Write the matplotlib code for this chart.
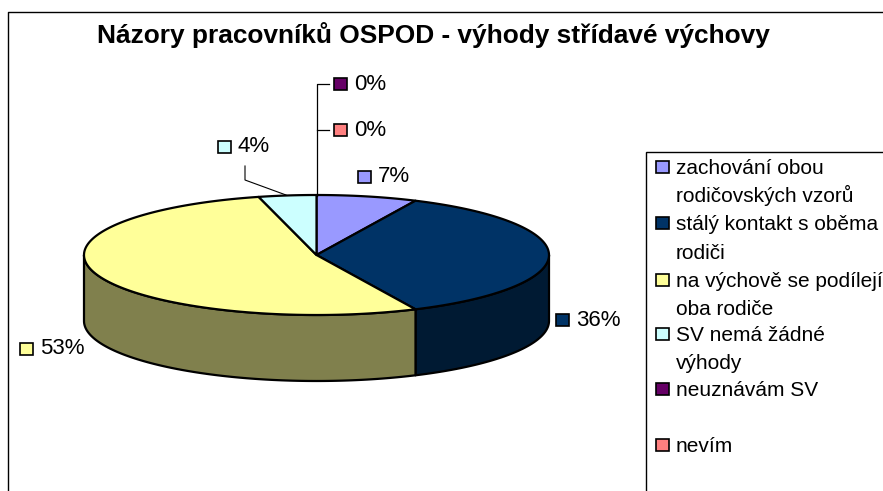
import numpy as np
import matplotlib
matplotlib.use("Agg")
import matplotlib.pyplot as plt
from matplotlib.patches import Polygon, Rectangle

title = "Názory pracovníků OSPOD - výhody střídavé výchovy"
categories = ["zachování obou\nrodičovských vzorů", "stálý kontakt s oběma\nrodiči",
              "na výchově se podílejí\noba rodiče", "SV nemá žádné\nvýhody", "neuznávám SV", "nevím"]
values = [7, 36, 53, 4, 0, 0]
colors = ["#9999FF", "#003366", "#FFFF99", "#CCFFFF", "#660066", "#FF8080"]
side_colors = ["#4D4D80", "#001A33", "#80804D", "#668080", "#330033", "#804040"]
label_marker_xy = [(364.5, 176.5), (562.5, 320), (26.5, 348.5), (224.5, 146.5), (340.5, 84), (340.5, 130)]
legend_rows = [(167, 195), (223, 252), (280, 308), (334, 362), (389,), (445,)]

plt.rcParams['font.family'] = ['Liberation Sans', 'DejaVu Sans']
fig = plt.figure(figsize=(8.83, 4.91), dpi=100)
ax = fig.add_axes([0, 0, 1, 1])
ax.set_xlim(0, 883)
ax.set_ylim(491, 0)
ax.axis('off')

# chart frame
ax.plot([8, 8, 883], [491, 12, 12], color='black', lw=1.0, solid_capstyle='butt')

# pie geometry
cx, cy, rx, ry, depth = 316.5, 255, 232.5, 60, 66
fractions = np.array(values, float) / sum(values)
edges = np.concatenate([[0], np.cumsum(fractions)]) * 2 * np.pi

def rim(a, b, dy=0.0):
    t = np.linspace(a, b, max(2, int((b - a) * 60)))
    return np.column_stack([cx + rx * np.sin(t), cy - ry * np.cos(t) + dy])

# sides
for i in range(len(values)):
    a, b = max(edges[i], np.pi / 2), min(edges[i + 1], 3 * np.pi / 2)
    if b <= a:
        continue
    top = rim(a, b)
    bottom = rim(a, b, depth)[::-1]
    ax.add_patch(Polygon(np.vstack([top, bottom]), closed=True, fc=side_colors[i], ec='black', lw=1.6, joinstyle='round', zorder=2))

# top faces
for i in range(len(values)):
    if values[i] == 0:
        continue
    pts = np.vstack([[cx, cy], rim(edges[i], edges[i + 1])])
    ax.add_patch(Polygon(pts, closed=True, fc=colors[i], ec='black', lw=1.6, joinstyle='round', zorder=3))

# leader lines
ax.plot([316.5, 316.5, 329], [196, 84, 84], color='black', lw=0.9, zorder=4)
ax.plot([316.5, 329], [130, 130], color='black', lw=0.9, zorder=4)
ax.plot([245, 245, 286], [166, 180, 195], color='black', lw=0.8, zorder=4)

# data labels
def marker(x, y, c):
    ax.add_patch(Rectangle((x - 6.5, y - 6), 13, 12, fc=c, ec='black', lw=1.2, zorder=5))

for (mx, my), v, c in zip(label_marker_xy, values, colors):
    marker(mx, my, c)
    ax.text(mx + 13.5, my + 6, f"{v}%", fontsize=16, va='baseline', ha='left', color='black', zorder=5)

# title
ax.text(433, 43, title, fontsize=18.9, fontweight='bold', ha='center', va='baseline', color='black')

# legend
ax.add_patch(Rectangle((646, 152), 300, 400, fc='white', ec='black', lw=1.0, zorder=1))
for cat, rows, c in zip(categories, legend_rows, colors):
    marker(662, rows[0], c)
    for line, y in zip(cat.split("\n"), rows):
        ax.text(676, y + 7, line, fontsize=15.05, va='baseline', ha='left', color='black', zorder=5)

fig.savefig("out.png", dpi=100, facecolor='white')
